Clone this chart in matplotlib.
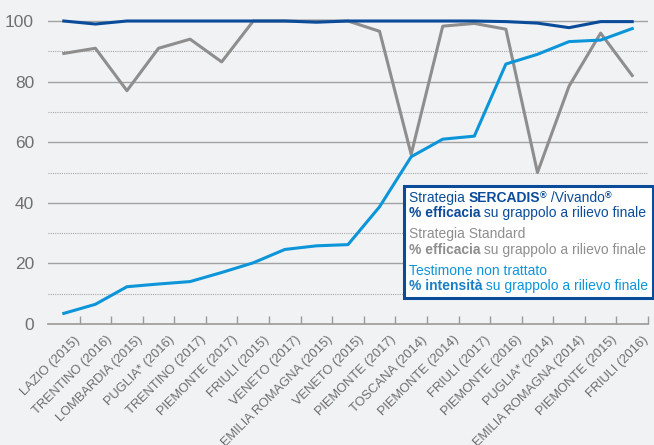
import numpy as np
import matplotlib.pyplot as plt
import matplotlib.transforms as mtransforms
from matplotlib.offsetbox import TextArea, HPacker, VPacker, AnchoredOffsetbox

plt.rcParams['font.family'] = ['Liberation Sans', 'DejaVu Sans']

# --- data ---
regions = ["LAZIO (2015)", "TRENTINO (2016)", "LOMBARDIA (2015)", "PUGLIA* (2016)",
           "TRENTINO (2017)", "PIEMONTE (2017)", "FRIULI (2015)", "VENETO (2017)",
           "EMILIA ROMAGNA (2015)", "VENETO (2015)", "PIEMONTE (2017)", "TOSCANA (2014)",
           "PIEMONTE (2014)", "FRIULI (2017)", "PIEMONTE (2016)", "PUGLIA* (2014)",
           "EMILIA ROMAGNA (2014)", "PIEMONTE (2015)", "FRIULI (2016)"]
sercadis = [100, 99, 100, 100, 100, 100, 100, 100, 99.6, 100, 100, 100,
            100, 100, 99.8, 99.3, 97.8, 99.8, 99.8]
standard = [89.3, 91, 77, 91, 94, 86.5, 100, 100, 100, 100, 96.6, 56,
            98.3, 99.2, 97.3, 50, 78.5, 96, 82]
testimone = [3.5, 6.5, 12.3, 13.2, 14, 17, 20.2, 24.6, 25.8, 26.2, 38.7, 55.2,
             61, 62, 85.8, 89, 93.2, 93.7, 97.5]

c_dark = '#0b4c9a'
c_gray = '#8e8e8e'
c_light = '#0d95d9'
bg = '#f1f2f4'

fig = plt.figure(figsize=(6.54, 4.45), dpi=100, facecolor=bg)
W, H = 654, 445
x0, x1 = 48, 648
y_zero, px_per_unit = 324, 3.03
top_val = 104
ax = fig.add_axes([x0 / W, (H - y_zero) / H, (x1 - x0) / W, top_val * px_per_unit / H])
ax.set_facecolor(bg)

x = np.arange(len(regions))
ax.set_xlim(-0.5, len(regions) - 0.5)
ax.set_ylim(0, top_val)

# grid: solid every 20, dotted in between
for v in range(20, 101, 20):
    ax.axhline(v, color='#a2a2a2', lw=1.0, zorder=1)
for v in range(10, 100, 20):
    ax.axhline(v, color='#a8a8a8', lw=0.8, ls=(0, (1, 1)), zorder=1)

ax.plot(x, standard, color=c_gray, lw=2.2, zorder=3, clip_on=False)
ax.plot(x, testimone, color=c_light, lw=2.2, zorder=4, clip_on=False)
ax.plot(x, sercadis, color=c_dark, lw=2.2, zorder=5, clip_on=False)

for s in ['top', 'right', 'left']:
    ax.spines[s].set_visible(False)
ax.spines['bottom'].set_color('#9a9a9a')
ax.spines['bottom'].set_linewidth(1.2)

ax.set_yticks(range(0, 101, 20))
ax.tick_params(axis='y', length=0, pad=10, labelsize=12.5, labelcolor='#707070')

ax.set_xticks(x)
ax.set_xticklabels(regions, rotation=45, ha='right', va='top',
                   rotation_mode='anchor', fontsize=9.3, color='#6e6e6e')
ax.tick_params(axis='x', which='major', length=0, pad=7)
ax.set_xticks(np.arange(0.5, len(regions) - 0.4, 1), minor=True)
ax.tick_params(axis='x', which='minor', direction='in', length=6, width=1, color='#9a9a9a')
shift = mtransforms.ScaledTranslation(10 / 100, 0, fig.dpi_scale_trans)
for lab in ax.get_xticklabels():
    lab.set_transform(lab.get_transform() + shift)

# legend box built from text pieces
fs = 10


def piece(txt, color, weight='normal', size=fs):
    return TextArea(txt, textprops=dict(color=color, fontsize=size, fontweight=weight))


def row(parts):
    return HPacker(children=parts, align='top', pad=0, sep=0)


legend_rows = [
    row([piece("Strategia ", c_dark), piece("SERCADIS", c_dark, 'bold'),
         piece("®", c_dark, 'bold', size=6.5), piece(" /Vivando", c_dark),
         piece("®", c_dark, 'bold', size=6.5)]),
    row([piece("% efficacia", c_dark, 'bold'), piece(" su grappolo a rilievo finale", c_dark)]),
    row([piece("Strategia Standard", c_gray)]),
    row([piece("% efficacia", c_gray, 'bold'), piece(" su grappolo a rilievo finale", c_gray)]),
    row([piece("Testimone non trattato", c_light)]),
    row([piece("% intensità", '#1a7fc4', 'bold'), piece(" su grappolo a rilievo finale", c_light)]),
]
groups = [VPacker(children=legend_rows[i:i + 2], align='left', pad=0, sep=1)
          for i in range(0, 6, 2)]
box = VPacker(children=groups, align='left', pad=0, sep=5)
anch = AnchoredOffsetbox(loc='upper left', child=box, pad=0.35, borderpad=0,
                         bbox_to_anchor=(404 / W, (H - 186) / H),
                         bbox_transform=fig.transFigure, frameon=True)
anch.patch.set_facecolor('white')
anch.patch.set_edgecolor(c_dark)
anch.patch.set_linewidth(2.2)
anch.set_zorder(10)
fig.add_artist(anch)

fig.savefig("out.png", dpi=100, facecolor=bg)
